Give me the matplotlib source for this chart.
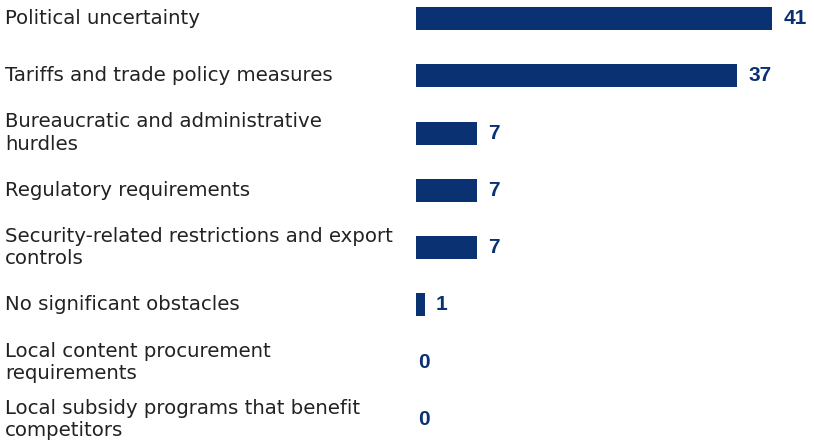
import matplotlib

matplotlib.use("Agg")
import matplotlib.pyplot as plt
from matplotlib.transforms import blended_transform_factory

categories = [
    "Political uncertainty",
    "Tariffs and trade policy measures",
    "Bureaucratic and administrative\nhurdles",
    "Regulatory requirements",
    "Security-related restrictions and export\ncontrols",
    "No significant obstacles",
    "Local content procurement\nrequirements",
    "Local subsidy programs that benefit\ncompetitors",
]
values = [41, 37, 7, 7, 7, 1, 0, 0]

NAVY = "#0a3172"
TEXT = "#222222"

W, H, DPI = 814, 443, 100
fig = plt.figure(figsize=(W / DPI, H / DPI), dpi=DPI)
x0 = 416  # left edge of the bars, px
ppu = 8.68  # px per unit
row = 57.3  # row pitch, px
top = 18.5  # centre of the first bar, px
ax = fig.add_axes([x0 / W, 0, 1 - x0 / W, 1])
ax.set_xlim(0, (W - x0) / ppu)
ax.set_ylim((H - top) / row, -top / row)
ax.axis("off")

ypos = list(range(len(categories)))
ax.barh(ypos, values, height=23 / row, color=NAVY, linewidth=0)

lab_tr = blended_transform_factory(fig.transFigure, ax.transData)
for y, cat, v in zip(ypos, categories, values):
    ax.text(5 / W, y, cat, transform=lab_tr, ha="left", va="center",
            fontsize=14.2, color=TEXT, family="DejaVu Sans", linespacing=1.22)
    ax.annotate(str(v), (v, y), xytext=(8.2 if v else 1.2, 0),
                textcoords="offset points", ha="left", va="center",
                fontsize=15, fontweight="bold", color=NAVY,
                family="Liberation Sans")

fig.savefig("out.png", dpi=DPI)
